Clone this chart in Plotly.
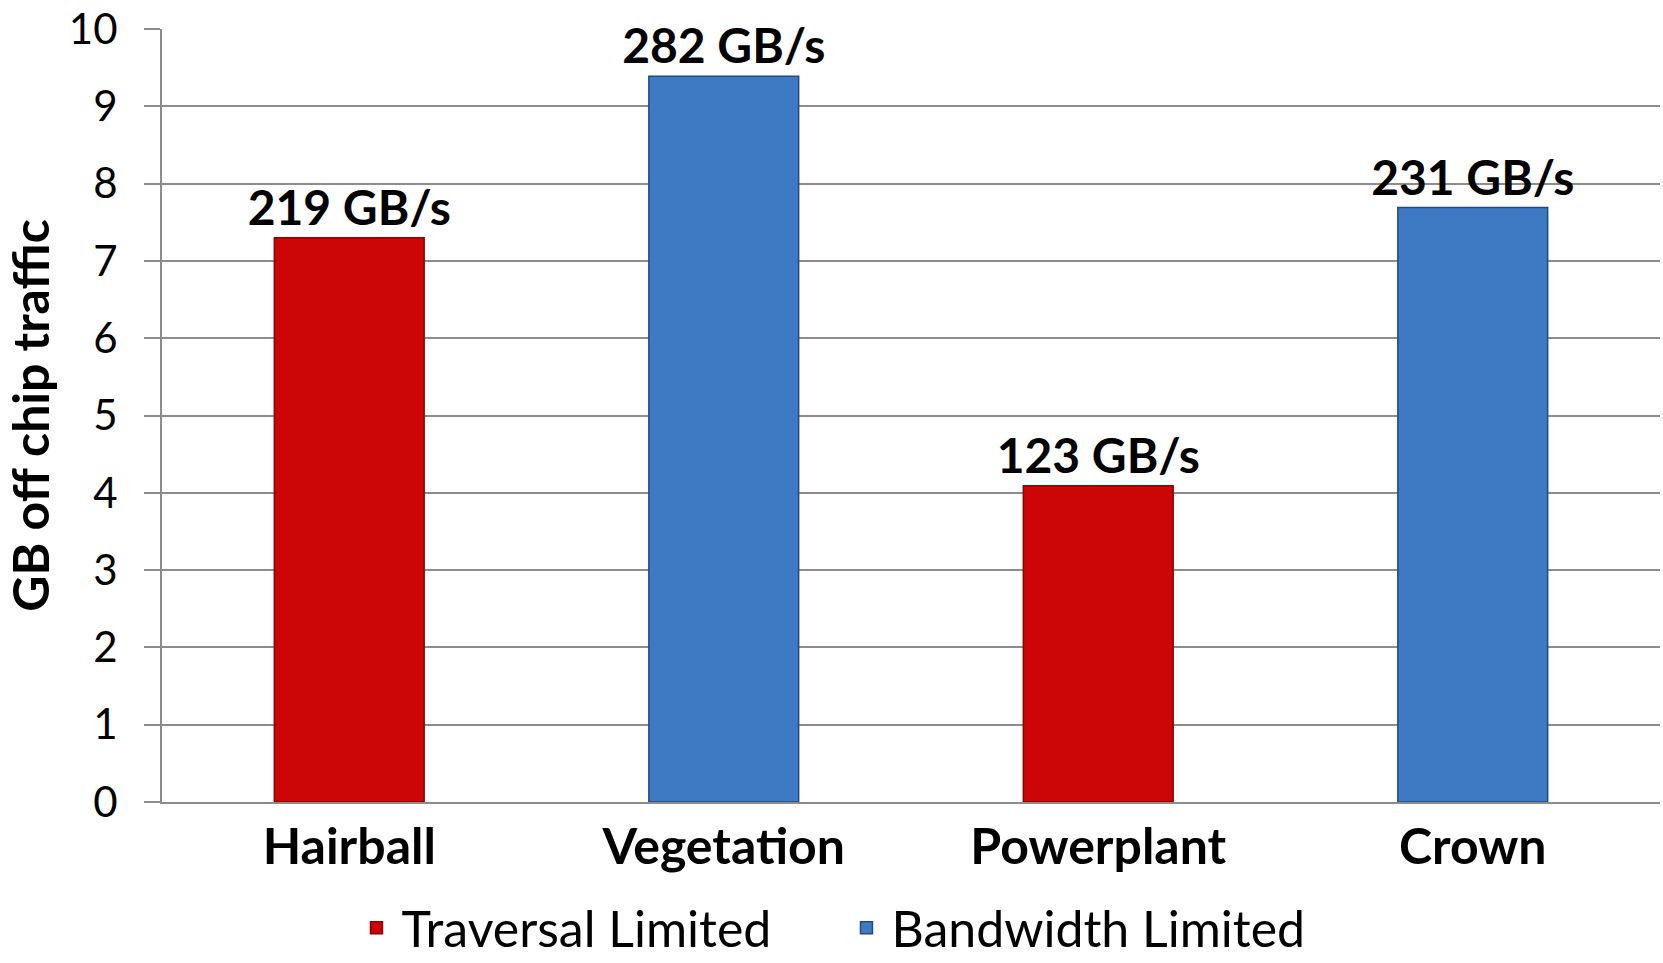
import plotly.graph_objects as go

# Off-chip traffic per scene, split by what limits the run
categories = ["Hairball", "Vegetation", "Powerplant", "Crown"]

traversal_scenes = ["Hairball", "Powerplant"]
traversal_gb = [7.3, 4.09]
traversal_bw = ["219 GB/s", "123 GB/s"]

bandwidth_scenes = ["Vegetation", "Crown"]
bandwidth_gb = [9.39, 7.69]
bandwidth_bw = ["282 GB/s", "231 GB/s"]

y_ticks = [0, 1, 2, 3, 4, 5, 6, 7, 8, 9, 10]

FONT = "Lato"
GRID = "#8c8c8c"
CAT_FONT = dict(family=FONT, size=50, color="black", weight="bold")
VALUE_FONT = dict(family=FONT, size=48, color="black", weight="bold")

fig = go.Figure()

fig.add_trace(go.Bar(
    name="Traversal Limited",
    x=traversal_scenes,
    y=traversal_gb,
    text=traversal_bw,
    textposition="outside",
    constraintext="none",
    textfont=VALUE_FONT,
    marker=dict(color="#cc0606", line=dict(color="#8a0404", width=1.5)),
    width=0.4,
    cliponaxis=False,
))

fig.add_trace(go.Bar(
    name="Bandwidth Limited",
    x=bandwidth_scenes,
    y=bandwidth_gb,
    text=bandwidth_bw,
    textposition="outside",
    constraintext="none",
    textfont=VALUE_FONT,
    marker=dict(color="#3e7ac4", line=dict(color="#23497e", width=1.5)),
    width=0.4,
    cliponaxis=False,
))

fig.update_layout(
    width=1663,
    height=963,
    margin=dict(l=162, r=3, t=25, b=161),
    paper_bgcolor="white",
    plot_bgcolor="white",
    barmode="overlay",
    font=dict(family=FONT, color="black"),
    legend=dict(
        orientation="h",
        xref="container", yref="container",
        x=0.506, xanchor="center",
        y=0.077, yanchor="top",
        font=dict(family=FONT, size=50, color="black"),
        itemwidth=40,
        entrywidth=435,
        entrywidthmode="pixels",
        traceorder="normal",
    ),
    xaxis=dict(
        categoryorder="array",
        categoryarray=categories,
        showgrid=False,
        showline=True,
        linecolor=GRID,
        linewidth=2,
        ticks="",
        tickfont=CAT_FONT,
    ),
    yaxis=dict(
        range=[0, 10],
        tickvals=y_ticks,
        showgrid=True,
        gridcolor=GRID,
        gridwidth=2,
        showline=True,
        linecolor=GRID,
        linewidth=2,
        ticks="outside",
        ticklen=16,
        tickcolor=GRID,
        tickwidth=2,
        ticklabelstandoff=18,
        ticklabeloverflow="allow",
        tickfont=dict(family=FONT, size=42, color="black"),
        zeroline=False,
        title=dict(
            text="GB off chip traffic",
            font=CAT_FONT,
            standoff=11,
        ),
    ),
)

fig.write_html("out.html")
